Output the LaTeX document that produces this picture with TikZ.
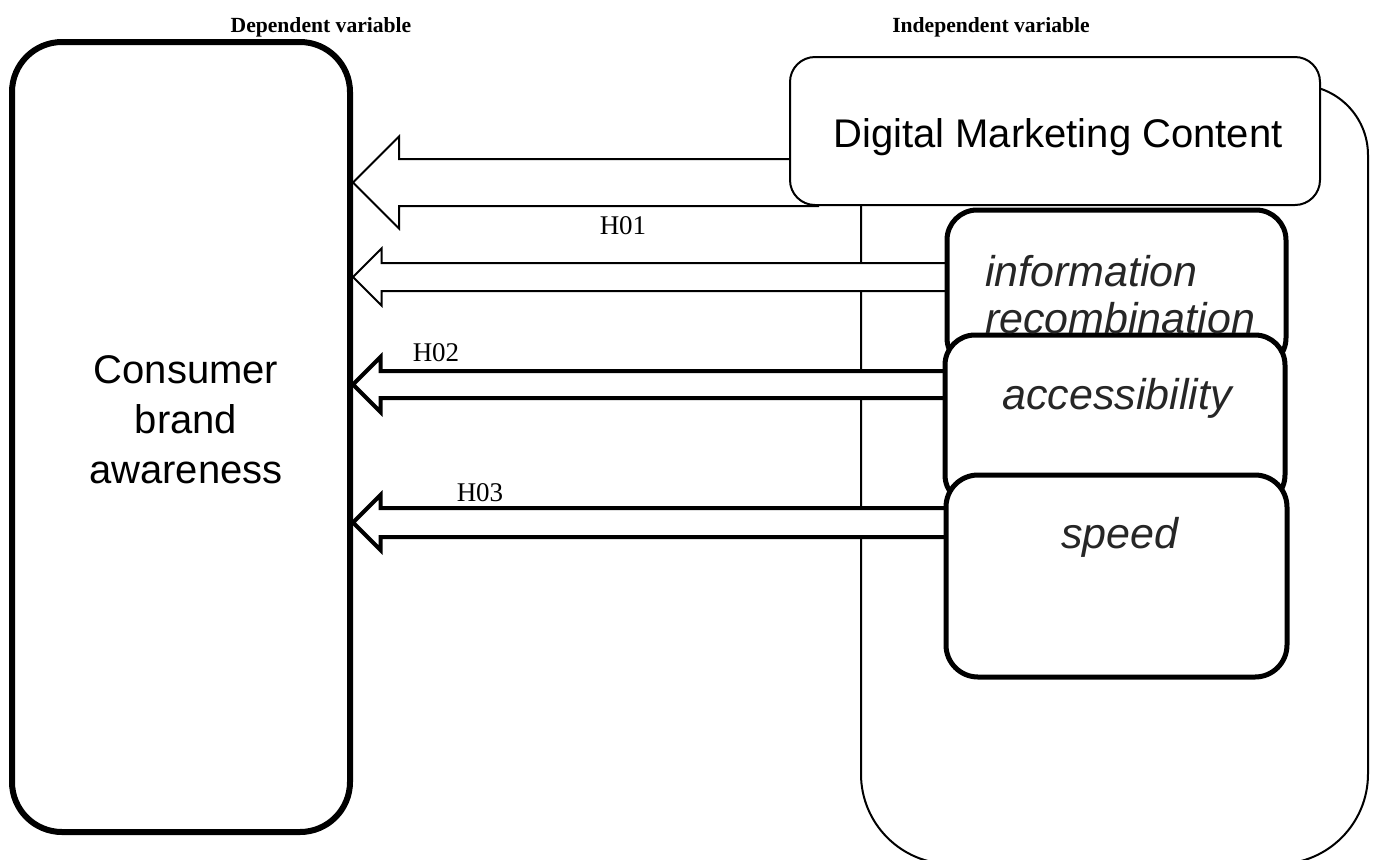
\documentclass[tikz,border=0pt]{standalone}
\usepackage{fontspec}
\setmainfont{Liberation Serif}
\setsansfont{Liberation Sans}
\usetikzlibrary{positioning,calc}
\pgfdeclarelayer{mid}\pgfdeclarelayer{fore}
\pgfsetlayers{main,mid,fore}

\begin{document}
\begin{tikzpicture}[x=0.5pt,y=-0.5pt,
  framebox/.style={draw,fill=white,line width=1pt,inner sep=0pt},
  dimbox/.style={draw,fill=white,line width=2.5pt,rounded corners=15pt,inner sep=0pt},
  sftext/.style={font=\sffamily\fontsize{20}{25}\selectfont,align=center},
  ittext/.style={font=\sffamily\itshape\fontsize{21.5}{23.5}\selectfont,text=black!85,align=left},
  hyp/.style={font=\fontsize{13.5}{16}\selectfont},
  headtxt/.style={font=\bfseries\fontsize{10.8}{13}\selectfont},
  barrow/.style={draw,fill=white,miter limit=10}]
  \useasboundingbox (0,0) rectangle (1373,859);
  % frame round the independent variable (runs off the bottom)
  \draw[line width=1pt,fill=white] (1000,85) [rounded corners=35pt] -- (1368,85) [rounded corners=45pt] -- (1368,864)
    -- (861,864) -- (861,85) -- cycle;
  \begin{pgfonlayer}{fore}
  \node[framebox,rounded corners=12.5pt,minimum width=265pt,minimum height=74pt] (dmc) at (1055,131) {};
  \node[dimbox,minimum width=169.5pt,minimum height=79pt] (info) at (1116.5,289) {};
  \node[dimbox,minimum width=170pt,minimum height=85pt] (acc) at (1115,420) {};
  \node[dimbox,rounded corners=16pt,minimum width=170.5pt,minimum height=101pt] (spd) at (1116.5,576) {};
  \node[draw,fill=white,line width=3pt,rounded corners=25pt,inner sep=0pt,minimum width=169pt,minimum height=395pt] (cba) at (181,437) {};
  % texts
  \node[sftext] (dmc-t) at (1058,137) {Digital Marketing Content};
  \node[sftext] (cba-t) at (186,420) {Consumer\\brand\\awareness};
  \node[ittext,anchor=west] (info-t) at (978,295) {information\\recombination};
  \node[ittext] (acc-t) at (1117,398) {accessibility};
  \node[ittext] (spd-t) at (1120,537) {speed};
  \node[headtxt] (dep) at (321,27) {Dependent variable};
  \node[headtxt] (indep) at (991,27) {Independent variable};
  \node[hyp] (h1) at (623,226) {H01};
  \node[hyp] (h2) at (436,353) {H02};
  \node[hyp] (h3) at (480,493) {H03};
  \end{pgfonlayer}
  % block arrows: source/centre y/half shaft/half head/line width
  \begin{pgfonlayer}{mid}
  \foreach \src/\yc/\sh/\hd/\lw in {dmc/182.5/23.5/46/1pt,info/277/14/28.5/1pt,acc/384.5/13.5/27.5/2pt,spd/522.5/14.5/27.5/2pt}{
    \coordinate (tip) at (cba.east |- 0,\yc);
    \coordinate (tail) at ($(\src.west |- 0,\yc)+(30,0)$);
    \draw[barrow,line width=\lw] ($(tail)+(0,-\sh)$) -- ($(tip)+(\hd,-\sh)$) -- ($(tip)+(\hd,-\hd)$) -- (tip)
      -- ($(tip)+(\hd,\hd)$) -- ($(tip)+(\hd,\sh)$) -- ($(tail)+(0,\sh)$);
  }
  \end{pgfonlayer}
\end{tikzpicture}
\end{document}
